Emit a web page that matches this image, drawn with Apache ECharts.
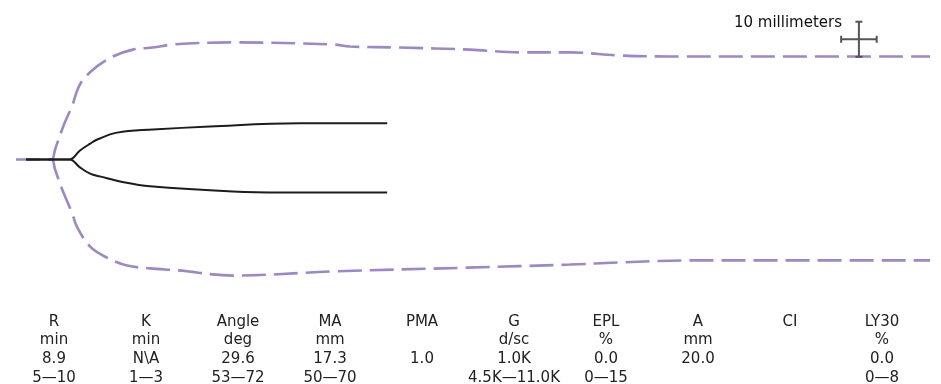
<!DOCTYPE html>
<html>
<head>
<meta charset="utf-8">
<title>TEG tracing</title>
<script src="https://cdn.jsdelivr.net/npm/echarts@6/dist/echarts.min.js"></script>
<style>
  html, body { margin: 0; padding: 0; background: #fff; }
  #chart { width: 941px; height: 384px; }
</style>
</head>
<body>
<div id="chart"></div>
<script>
// time in minutes, amplitude in mm (0 = trace centre)
const envTopTime = [0, 6.5, 7.1, 7.7, 9.3, 11.0, 12.6, 15.2, 19.1, 23.0, 27.0, 30.9, 42.7, 62.4, 65.8, 75.6, 89.4, 99.3, 109.1, 118.9, 128.8, 180];
const envTopAmp = [0, 0, 0, 2.9, 9.6, 15.4, 21.8, 26.1, 29.9, 31.9, 32.5, 33.4, 34.0, 33.4, 32.8, 32.5, 31.9, 31.1, 31.1, 30.2, 29.9, 29.9];

const envBottomTime = [6.5, 7.1, 7.7, 9.1, 11.0, 12.0, 14.6, 17.9, 21.9, 26.4, 32.0, 42.7, 62.4, 88.8, 109.1, 118.9, 132.1, 180];
const envBottomAmp = [0, 0, -2.9, -8.7, -15.4, -19.5, -25.3, -28.5, -30.8, -31.6, -32.2, -33.7, -32.5, -31.4, -30.5, -29.9, -29.3, -29.3];

const traceTopTime = [2.0, 10.0, 10.6, 12.6, 14.6, 16.0, 19.9, 27.0, 38.2, 55.9, 73.1];
const traceTopAmp = [0, 0, 0, 2.6, 4.6, 5.8, 7.8, 8.7, 9.6, 10.5, 10.5];

const traceBottomTime = [2.0, 10.0, 10.6, 12.6, 14.6, 16.5, 21.5, 26.4, 42.7, 52.6, 73.1];
const traceBottomAmp = [0, 0, 0, -2.3, -4.1, -4.9, -6.7, -7.8, -9.3, -9.6, -9.6];

// scale bar: centre (min, mm), half sizes
const scaleCentre = [166.0, 34.9];
const scaleHalf = [3.5, 5.1];

const paramNames = ['R', 'K', 'Angle', 'MA', 'PMA', 'G', 'EPL', 'A', 'CI', 'LY30'];
const paramUnits = ['min', 'min', 'deg', 'mm', '', 'd/sc', '%', 'mm', '', '%'];
const paramValues = ['8.9', 'N\\A', '29.6', '17.3', '1.0', '1.0K', '0.0', '20.0', '', '0.0'];
const paramRanges = ['5\u201410', '1\u20143', '53\u201472', '50\u201470', '', '4.5K\u201411.0K', '0\u201415', '', '', '0\u20148'];

const zip = (xs, ys) => xs.map((x, i) => [x, ys[i]]);

const FONT = 'DejaVu Sans';
const purple = '#9b87c9';
const ink = '#1c1c1c';

const envStyle = { color: purple, width: 2.6, type: [24, 8] };
const traceStyle = { color: ink, width: 2 };

const chart = echarts.init(document.getElementById('chart'));

chart.setOption({
  animation: false,
  backgroundColor: '#fff',
  grid: [
    { left: 16, width: 914, top: 4.5, height: 310 },
    { left: 8, width: 920, top: 300, height: 6 }
  ],
  xAxis: [
    { gridIndex: 0, type: 'value', min: 0, max: 180, show: false },
    {
      gridIndex: 1, type: 'category', data: paramNames,
      axisLine: { show: false }, axisTick: { show: false }, splitLine: { show: false },
      axisLabel: {
        interval: 0, margin: 11, fontFamily: FONT, fontSize: 15, lineHeight: 18.7, color: '#222',
        formatter: (v, i) => [paramNames[i], paramUnits[i] || ' ', paramValues[i] || ' ', paramRanges[i] || ' '].join('\n')
      }
    }
  ],
  yAxis: [
    { gridIndex: 0, type: 'value', min: -45, max: 45, show: false },
    { gridIndex: 1, type: 'value', show: false }
  ],
  graphic: [
    {
      type: 'text', right: 941 - 842, top: 16,
      style: { text: '10 millimeters', font: '15px "DejaVu Sans"', fill: '#111' }
    }
  ],
  series: [
    { type: 'line', data: zip(envTopTime, envTopAmp), showSymbol: false, smooth: 0.35, lineStyle: envStyle },
    { type: 'line', data: zip(envBottomTime, envBottomAmp), showSymbol: false, smooth: 0.35, lineStyle: envStyle },
    { type: 'line', data: zip(traceTopTime, traceTopAmp), showSymbol: false, smooth: 0.4, lineStyle: traceStyle },
    { type: 'line', data: zip(traceBottomTime, traceBottomAmp), showSymbol: false, smooth: 0.4, lineStyle: traceStyle },
    {
      type: 'line',
      data: [[scaleCentre[0], scaleCentre[1] - scaleHalf[1]], [scaleCentre[0], scaleCentre[1] + scaleHalf[1]]],
      symbol: 'rect', symbolSize: [7, 2], itemStyle: { color: '#555' },
      lineStyle: { color: '#555', width: 2 }, z: 5
    },
    {
      type: 'line',
      data: [[scaleCentre[0] - scaleHalf[0], scaleCentre[1]], [scaleCentre[0] + scaleHalf[0], scaleCentre[1]]],
      symbol: 'rect', symbolSize: [2, 7], itemStyle: { color: '#555' },
      lineStyle: { color: '#555', width: 2 }, z: 5
    }
  ]
});
</script>
</body>
</html>
